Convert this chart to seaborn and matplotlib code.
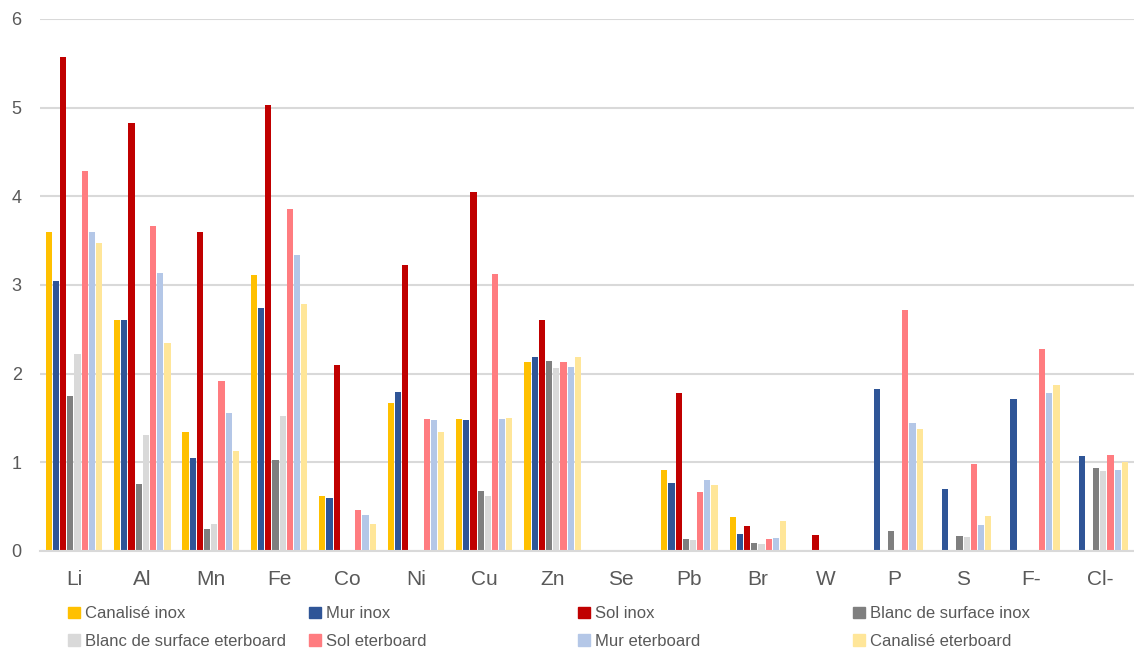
import matplotlib
matplotlib.use("Agg")
import matplotlib.pyplot as plt
import matplotlib.patches as mpatches
from matplotlib import font_manager
import seaborn as sns
import pandas as pd

categories = ["Li", "Al", "Mn", "Fe", "Co", "Ni", "Cu", "Zn", "Se", "Pb", "Br", "W", "P", "S", "F-", "Cl-"]
series = ["Canalisé inox", "Mur inox", "Sol inox", "Blanc de surface inox",
          "Blanc de surface eterboard", "Sol eterboard", "Mur eterboard", "Canalisé eterboard"]

canalise_inox = [3.60, 2.60, 1.34, 3.11, 0.62, 1.67, 1.49, 2.13, 0, 0.91, 0.38, 0, 0, 0, 0, 0]
mur_inox = [3.04, 2.60, 1.05, 2.74, 0.60, 1.79, 1.48, 2.19, 0, 0.77, 0.19, 0, 1.83, 0.70, 1.71, 1.07]
sol_inox = [5.57, 4.83, 3.60, 5.03, 2.10, 3.22, 4.05, 2.60, 0, 1.78, 0.28, 0.18, 0, 0, 0, 0]
blanc_inox = [1.75, 0.75, 0.25, 1.02, 0, 0, 0.68, 2.14, 0, 0.14, 0.09, 0, 0.22, 0.17, 0, 0.93]
blanc_eter = [2.22, 1.31, 0.30, 1.52, 0, 0, 0.62, 2.06, 0, 0.12, 0.08, 0, 0, 0.16, 0, 0.90]
sol_eter = [4.28, 3.66, 1.92, 3.86, 0.46, 1.49, 3.12, 2.13, 0, 0.67, 0.14, 0, 2.72, 0.98, 2.28, 1.08]
mur_eter = [3.60, 3.14, 1.55, 3.34, 0.41, 1.48, 1.49, 2.08, 0, 0.80, 0.15, 0, 1.44, 0.29, 1.78, 0.91]
canalise_eter = [3.47, 2.35, 1.13, 2.79, 0.30, 1.34, 1.50, 2.19, 0, 0.74, 0.34, 0, 1.37, 0.39, 1.87, 1.00]

colors = ["#FFC000", "#2F5597", "#C00000", "#7F7F7F", "#D9D9D9", "#FF7C80", "#B4C7E7", "#FFE699"]

values = [canalise_inox, mur_inox, sol_inox, blanc_inox, blanc_eter, sol_eter, mur_eter, canalise_eter]
rows = []
for s, vals in zip(series, values):
    for c, v in zip(categories, vals):
        rows.append({"cat": c, "series": s, "val": v})
df = pd.DataFrame(rows)

sns.set_theme(style="white")
available = {f.name for f in font_manager.fontManager.ttflist}
fam = ["Liberation Sans Narrow", "DejaVu Sans"] if "Liberation Sans Narrow" in available else ["Liberation Sans", "DejaVu Sans"]
plt.rcParams["font.family"] = fam
text_color = "#595959"

fig = plt.figure(figsize=(11.34, 6.52), dpi=100)
ax = fig.add_axes([0.035, 0.155, 0.965, 0.816])

sns.barplot(data=df, x="cat", y="val", hue="series", order=categories, hue_order=series,
            palette=colors, saturation=1, width=0.84, gap=0.14, linewidth=0,
            errorbar=None, ax=ax, legend=False)

ax.set_ylim(0, 6)
ax.set_xlim(-0.5, len(categories) - 0.5)
ax.set_yticks(range(0, 7))
ax.yaxis.grid(True, color="#D9D9D9", linewidth=1.5)
ax.set_axisbelow(True)
for side in ["left", "right", "top"]:
    ax.spines[side].set_visible(False)
ax.spines["bottom"].set_color("#D9D9D9")
ax.spines["bottom"].set_linewidth(1.5)
ax.set_xlabel("")
ax.set_ylabel("")
ax.tick_params(axis="x", length=0, pad=14, labelsize=15, labelcolor=text_color)
ax.tick_params(axis="y", length=0, pad=13, labelsize=13, labelcolor=text_color)

handles = [mpatches.Patch(color=c, label=s) for c, s in zip(colors, series)]
col_x = [68 / 1134, 309 / 1134, 578 / 1134, 853 / 1134]
for i, x in enumerate(col_x):
    fig.legend(handles=[handles[i], handles[i + 4]], loc="center left",
               bbox_to_anchor=(x, 1 - 627.5 / 652), frameon=False, fontsize=12,
               handlelength=0.7, handleheight=0.7, handletextpad=0.3,
               labelspacing=0.75, borderpad=0, borderaxespad=0, labelcolor=text_color)

fig.savefig("out.png", dpi=100)
